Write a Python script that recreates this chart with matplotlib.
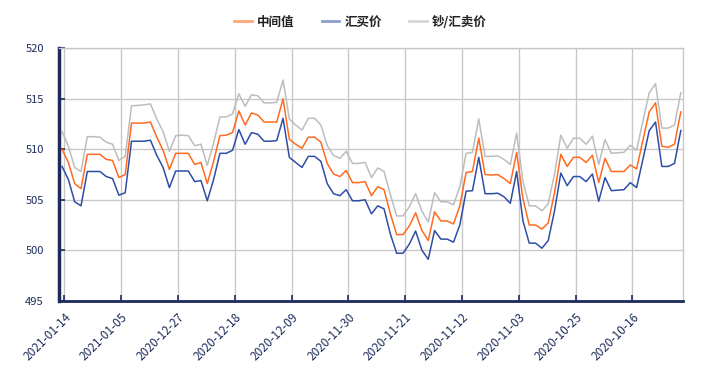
import matplotlib
matplotlib.use('Agg')
import matplotlib.pyplot as plt
from matplotlib.lines import Line2D
import pandas as pd

plt.rcParams['font.family'] = ['Noto Sans CJK SC', 'DejaVu Sans']

# 日期 (新 -> 旧)
dates = pd.date_range(end='2021-01-14', periods=99)[::-1].strftime('%Y-%m-%d')

# 中间值
mid = [510.0, 508.7, 506.6, 506.1, 509.5, 509.5, 509.5, 509.0, 508.9, 507.2,
       507.5, 512.6, 512.6, 512.6, 512.7, 511.2, 509.9, 508.0, 509.6, 509.6,
       509.6, 508.5, 508.7, 506.6, 508.8, 511.35, 511.4, 511.65, 513.8, 512.4,
       513.6, 513.4, 512.7, 512.7, 512.7, 515.0, 511.0, 510.5, 510.1, 511.2,
       511.2, 510.7, 508.6, 507.55, 507.3, 507.9, 506.7, 506.7, 506.8, 505.4,
       506.3, 506.0, 503.6, 501.55, 501.55, 502.4, 503.7, 501.95, 500.96, 503.8,
       502.9, 502.9, 502.6, 504.4, 507.7, 507.8, 511.1, 507.5, 507.45, 507.5,
       507.1, 506.6, 509.7, 505.1, 502.5, 502.5, 502.1, 502.7, 505.7, 509.5,
       508.3, 509.2, 509.2, 508.7, 509.4, 506.7, 509.1, 507.8, 507.8, 507.8,
       508.45, 508.05, 510.9, 513.7, 514.6, 510.3, 510.2, 510.5, 513.7]

# 汇买价
buy = [508.3, 507.0, 504.8, 504.4, 507.8, 507.8, 507.8, 507.3, 507.1, 505.45,
       505.7, 510.8, 510.8, 510.8, 510.9, 509.4, 508.2, 506.2, 507.85, 507.85,
       507.85, 506.8, 506.9, 504.9, 507.0, 509.6, 509.6, 509.9, 511.95, 510.5,
       511.65, 511.5, 510.8, 510.8, 510.86, 513.07, 509.2, 508.7, 508.2, 509.3,
       509.3, 508.8, 506.6, 505.6, 505.4, 506.0, 504.9, 504.9, 505.0, 503.6,
       504.4, 504.1, 501.6, 499.7, 499.7, 500.6, 501.9, 500.0, 499.1, 501.95,
       501.1, 501.1, 500.8, 502.5, 505.85, 505.9, 509.2, 505.6, 505.6, 505.65,
       505.3, 504.65, 507.8, 502.9, 500.7, 500.7, 500.2, 500.95, 503.9, 507.65,
       506.4, 507.3, 507.3, 506.8, 507.55, 504.85, 507.2, 505.9, 505.95, 506.0,
       506.7, 506.2, 509.0, 511.85, 512.7, 508.3, 508.3, 508.6, 511.85]

# 钞/汇卖价
sell = [511.75, 510.3, 508.2, 507.8, 511.25, 511.25, 511.2, 510.7, 510.5, 508.9,
        509.3, 514.3, 514.35, 514.4, 514.5, 513.0, 511.75, 509.8, 511.35, 511.4,
        511.35, 510.36, 510.5, 508.4, 510.6, 513.2, 513.2, 513.5, 515.5, 514.26,
        515.4, 515.3, 514.6, 514.6, 514.65, 516.86, 513.0, 512.4, 511.9, 513.07,
        513.07, 512.4, 510.36, 509.4, 509.1, 509.8, 508.6, 508.6, 508.7, 507.2,
        508.15, 507.8, 505.5, 503.4, 503.4, 504.3, 505.6, 503.86, 502.8, 505.7,
        504.8, 504.8, 504.5, 506.3, 509.6, 509.7, 513.0, 509.3, 509.3, 509.35,
        509.0, 508.5, 511.6, 506.8, 504.4, 504.4, 503.9, 504.6, 507.55, 511.4,
        510.1, 511.1, 511.1, 510.5, 511.3, 508.5, 510.96, 509.6, 509.65, 509.7,
        510.4, 509.9, 512.8, 515.6, 516.5, 512.1, 512.1, 512.4, 515.6]

c_mid = '#ff6a1f'
c_buy = '#2e4ea6'
c_sell = '#bdbdbd'
navy = '#1c2b5a'

fig = plt.figure(figsize=(7.07, 3.70), dpi=100)
ax = fig.add_axes([0.0835, 0.1873, 0.883, 0.682])

x = range(len(dates))
ax.plot(x, sell, color=c_sell, lw=1.1)
ax.plot(x, mid, color=c_mid, lw=1.1)
ax.plot(x, buy, color=c_buy, lw=1.1)

ax.set_xlim(-0.48, 98.4)
ax.set_ylim(495, 520)
ax.set_yticks(range(495, 521, 5))

# 每9天一个刻度
ticks = [i + 0.35 for i in range(0, len(dates), 9)]
ax.set_xticks(ticks)
ax.set_xticklabels(dates[::9], rotation=45, ha='right', va='top',
                   rotation_mode='anchor')

ax.grid(color='#c8c8c8', lw=1)
ax.set_axisbelow(True)
for s in ['top', 'right']:
    ax.spines[s].set_color('#c8c8c8')
    ax.spines[s].set_linewidth(1)
ax.spines['left'].set_color(navy)
ax.spines['left'].set_linewidth(2.5)
ax.spines['bottom'].set_color(navy)
ax.spines['bottom'].set_linewidth(2)

ax.tick_params(direction='in', length=4, width=1.2, color=navy,
               labelcolor=navy)
ax.tick_params(axis='y', pad=11, labelsize=8)
ax.tick_params(axis='x', pad=7, labelsize=8.5)

# 图例
handles = [Line2D([], [], color=c_mid, lw=2, alpha=0.6),
           Line2D([], [], color=c_buy, lw=2, alpha=0.55),
           Line2D([], [], color=c_sell, lw=2, alpha=0.6)]
fig.legend(handles, ['中间值', '汇买价', '钞/汇卖价'], loc='center',
           bbox_to_anchor=(0.51, 0.94), ncol=3, frameon=False,
           prop={'size': 9, 'weight': 'bold'}, handlelength=1.4,
           handletextpad=0.4, columnspacing=2.2, labelcolor='#222222')

fig.savefig('out.png', dpi=100)
